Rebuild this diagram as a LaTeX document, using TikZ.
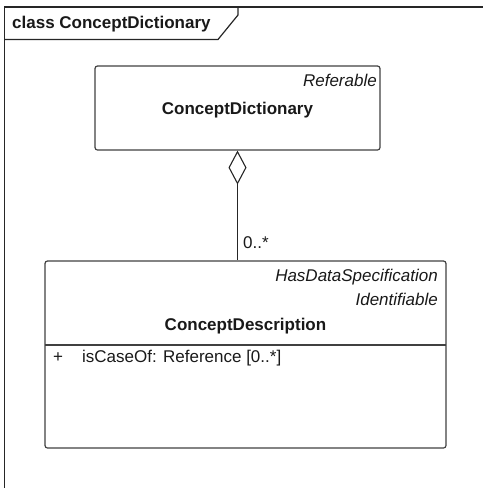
\documentclass[tikz,border=0pt]{standalone}
\usepackage{fontspec}
\setmainfont{Liberation Sans}
\usetikzlibrary{arrows.meta}
\tikzset{every picture/.append style={x=1pt, y=-1pt}}
\tikzset{
    every node/.style={inner sep=0pt, text=black!90,
        font=\fontsize{17}{20}\selectfont},
    classbox/.style={rectangle, draw=black!75, line width=1.2pt,
        rounded corners=2.5pt},
    stereo/.style={anchor=east, font=\fontsize{17}{20}\selectfont\itshape},
    cname/.style={font=\fontsize{17}{20}\selectfont\bfseries},
    aggr/.style={{Diamond[open, length=34pt, width=18pt]}-, draw=black!85,
        line width=1.1pt}
}

\begin{document}
\begin{tikzpicture}
  \useasboundingbox (0,0) rectangle (483,488);
  % frame
  \draw [line width=1.6pt, black!85] (4.5,488) -- (4.5,7) -- (483,7);
  \draw [line width=1.2pt, black!85] (4.5,39.5) -- (218,39.5) -- (238,15) -- (238,7);
  \node (title) [cname, anchor=west] at (12,24) {class ConceptDictionary};

  \node (cd) [classbox, minimum width=285pt, minimum height=84pt] at (237.5,108) {};
  \node (cdesc) [classbox, minimum width=401pt, minimum height=187pt] at (245.5,354.5) {};

  \node (s1) [stereo] at (377,80) {Referable};
  \node (n1) [cname] at (237.5,110) {ConceptDictionary};
  \node (s2) [stereo] at (438,277) {HasDataSpecification};
  \node (s3) [stereo] at (438,299) {Identifiable};
  \node (n2) [cname] at (245.5,326) {ConceptDescription};
  \draw [line width=1.2pt, black!75] (45,345) -- (446,345);
  \node (vis) at (58,358) {+};
  \node (attr) [anchor=west] at (82,358) {isCaseOf: Reference [0..*]};

  \draw [aggr] (cd.south) -- (cd.south |- cdesc.north);
  \node (mult) [anchor=west] at (243,243) {0..*};
\end{tikzpicture}
\end{document}
